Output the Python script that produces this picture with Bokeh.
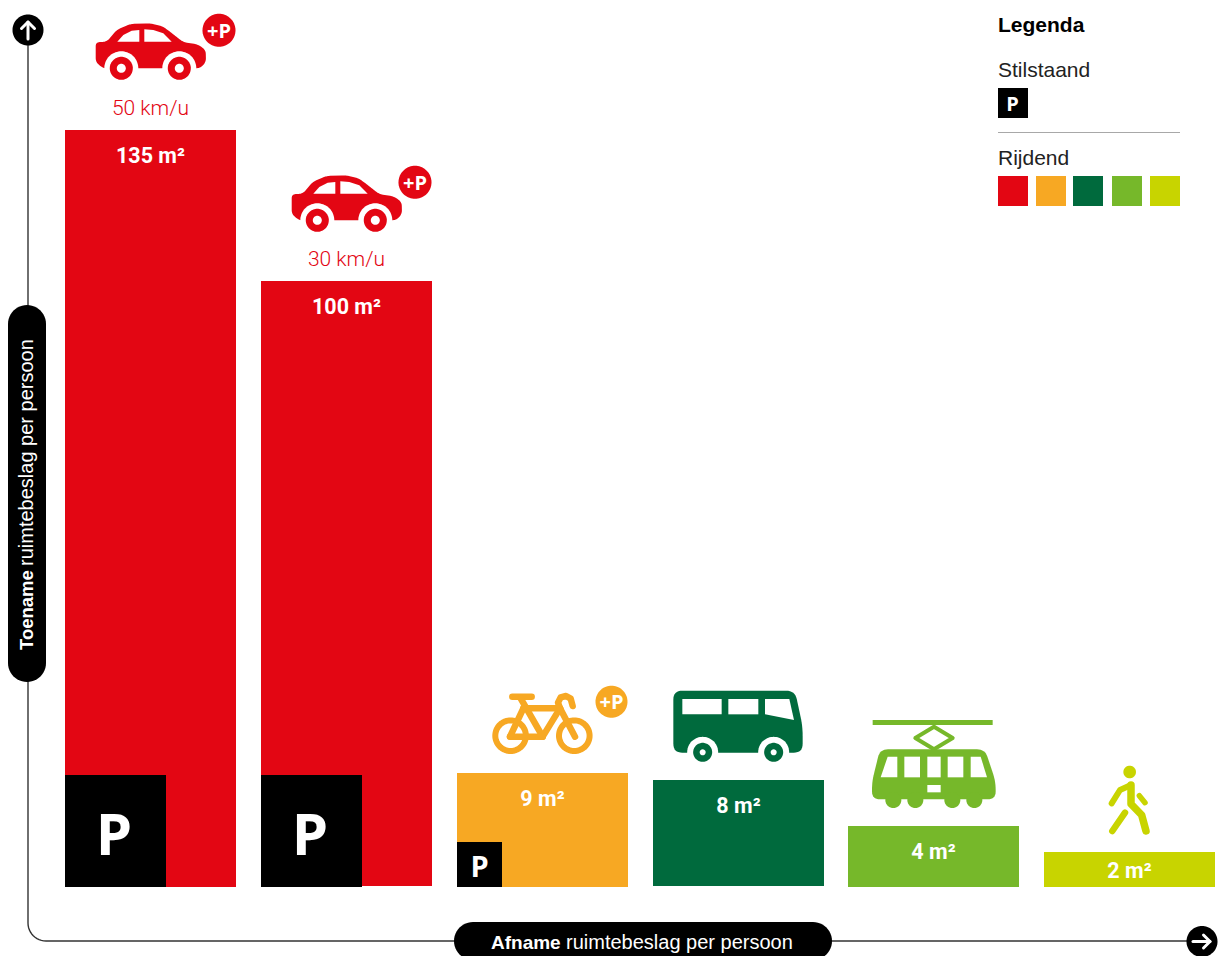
import math
from bokeh.plotting import figure
from bokeh.models import Range1d
from bokeh.core.properties import value
from bokeh.embed import file_html
from bokeh.resources import INLINE

# ---- data ----
modes = ["Auto 50 km/u", "Auto 30 km/u", "Fiets", "Bus", "Tram", "Lopen"]
space_m2 = [135, 100, 9, 8, 4, 2]
drawn_height = [757, 605, 114, 106, 61, 35]      # the picture's bars are not to scale
base_gap = [0, 1, 0, 1, 0, 0]
parking_height = [112, 112, 45, 0, 0, 0]
parking_width = [101, 101, 45, 0, 0, 0]
speed_labels = ["50 km/u", "30 km/u", "", "", "", ""]
colors = ["#E30613", "#E30613", "#F7A823", "#006A3D", "#76B82A", "#C8D400"]
legend_colors = ["#E30613", "#F7A823", "#006A3D", "#76B82A", "#C8D400"]

W, H = 1218, 956
RED, ORANGE, GREEN, LIME, YEL = legend_colors
p = figure(width=W, height=H, output_backend="svg", toolbar_location=None,
           x_range=Range1d(0.5, 1218.5), y_range=Range1d(956.5, 0.5),
           min_border=0, outline_line_color=None, background_fill_color="white")
p.axis.visible = False
p.grid.visible = False


def rounded(pts, r):
    out = []
    n = len(pts)
    for i in range(n):
        a, b, c = pts[i - 1], pts[i], pts[(i + 1) % n]
        la = math.dist(a, b)
        lc = math.dist(b, c)
        ra = min(r, la / 2) / la
        rc = min(r, lc / 2) / lc
        p0 = (b[0] + (a[0] - b[0]) * ra, b[1] + (a[1] - b[1]) * ra)
        p2 = (b[0] + (c[0] - b[0]) * rc, b[1] + (c[1] - b[1]) * rc)
        for k in range(9):
            t = k / 8
            out.append(((1 - t) ** 2 * p0[0] + 2 * t * (1 - t) * b[0] + t * t * p2[0],
                        (1 - t) ** 2 * p0[1] + 2 * t * (1 - t) * b[1] + t * t * p2[1]))
    return out


def poly(pts, color, r=0):
    if r:
        pts = rounded(pts, r)
    p.patch([a for a, _ in pts], [b for _, b in pts], fill_color=color, line_color=None)


def circ(x, y, rad, color):
    pts = [(x + rad * math.cos(t * math.pi / 36), y + rad * math.sin(t * math.pi / 36)) for t in range(72)]
    poly(pts, color)


def ring(x, y, rad, w, color):
    pts = [(x + rad * math.cos(t * math.pi / 36), y + rad * math.sin(t * math.pi / 36)) for t in range(73)]
    path(pts, color, w)


def path(pts, color, w):
    p.line([a for a, _ in pts], [b for _, b in pts], line_color=color, line_width=w,
           line_cap="round", line_join="round")


def label(x, y, t, size, color, font="Roboto", style="normal", align="center", angle=0):
    p.text([x], [y], text=[t], text_font=value(font), text_font_size=value(f"{size}px"),
           text_font_style=style, text_color=color, text_align=align, text_baseline="middle",
           angle=angle)


def car(dx, dy):
    body = [(95.7, 42.3), (106.7, 41.7), (116.7, 30), (130, 24), (150, 23.3), (163, 26.5), (173, 34),
            (183, 42), (198, 44.5), (205.7, 50), (206, 62), (200, 68.3), (103, 68.3), (95.7, 62)]
    poly([(x + dx, y + dy) for x, y in body], RED, 4)
    for cx in (121.3, 179.3):
        circ(cx + dx, 68.3 + dy, 17, "white")
        circ(cx + dx, 68.3 + dy, 11.5, RED)
        circ(cx + dx, 68.3 + dy, 4.5, "white")
    for w in ([(117.3, 41.7), (139.3, 41.7), (139.3, 30), (131.7, 30.7), (123.3, 35)],
              [(144.3, 41.7), (171.7, 41.7), (163.3, 33.3), (153.3, 30), (144.3, 29.3)]):
        poly([(x + dx, y + dy) for x, y in w], "white")


def badge(x, y, rad, color):
    circ(x, y, rad, color)
    label(x, y, "+P", 20, "white", "Open Sans", "bold")


def zb(pts):
    return [(470 + x / 3, 670 + y / 3) for x, y in pts]


def zc(pts):
    return [(480 + x / 3, 680 + y / 3) for x, y in pts]


def zt(pts):
    return [(850 + x / 3, 700 + y / 3) for x, y in pts]


# ---- axes ----
curve = [(28, 30), (28, 923)]
curve += [(46 - 18 * math.cos(t * math.pi / 24), 923 + 18 * math.sin(t * math.pi / 24)) for t in range(1, 13)]
curve += [(1202, 941)]
p.line([a for a, _ in curve], [b for _, b in curve], line_color="#333333", line_width=1.4)

circ(28, 30, 15.5, "black")
path([(28, 39), (28, 22)], "white", 3)
path([(21.5, 28.5), (28, 22), (34.5, 28.5)], "white", 3)
circ(1202, 941.5, 15.5, "black")
path([(1193, 941.5), (1210, 941.5)], "white", 3)
path([(1203.5, 935), (1210, 941.5), (1203.5, 948)], "white", 3)

# pills
pts = [(27 - 19 * math.cos(t * math.pi / 24), 324 - 19 * math.sin(t * math.pi / 24)) for t in range(25)]
pts += [(27 + 19 * math.cos(t * math.pi / 24), 663 + 19 * math.sin(t * math.pi / 24)) for t in range(25)]
poly(pts, "black")
label(26, 650, "Toename", 18.5, "white", "Liberation Sans", "bold", "left", math.pi / 2)
label(26, 566, "ruimtebeslag per persoon", 20, "white", "Liberation Sans", "normal", "left", math.pi / 2)

pts = [(473 - 19 * math.sin(t * math.pi / 24), 941 - 19 * math.cos(t * math.pi / 24)) for t in range(25)]
pts += [(813 + 19 * math.sin(t * math.pi / 24), 941 + 19 * math.cos(t * math.pi / 24)) for t in range(25)]
poly(pts, "black")
label(491, 942, "Afname", 19, "white", "Liberation Sans", "bold", "left")
label(566, 942, "ruimtebeslag per persoon", 20, "white", "Liberation Sans", "normal", "left")

# ---- bars ----
base = 887
lefts = [round(65.15 + 195.8 * i) for i in range(len(modes))]
rights = [l + 171 for l in lefts]
tops = [base - g - h for h, g in zip(drawn_height, base_gap)]
bottoms = [base - g for g in base_gap]
p.quad(left=lefts, right=rights, top=tops, bottom=bottoms, fill_color=colors, line_color=None)

pk = [i for i, h in enumerate(parking_height) if h]
p.quad(left=[lefts[i] for i in pk], right=[lefts[i] + parking_width[i] for i in pk],
       top=[base - parking_height[i] for i in pk], bottom=[base] * len(pk),
       fill_color="black", line_color=None)
for i in pk:
    label(lefts[i] + 49 if parking_width[i] > 50 else lefts[i] + 22.5,
          base - 55 if parking_width[i] > 50 else base - 22,
          "P", 58 if parking_width[i] > 50 else 29, "white", "Open Sans", "bold")

for i, v in enumerate(space_m2):
    dy = 18 if v == 2 else 25
    label(lefts[i] + 85.5, tops[i] + dy, f"{v} m²", 21.5, "white", "Roboto", "bold")
    if speed_labels[i]:
        label(lefts[i] + 85.5, tops[i] - 22.5, speed_labels[i], 21, RED, "Roboto Light")

# ---- icons ----
car(0, 0)
badge(219, 30.3, 16.5, RED)
car(196, 152)
badge(415, 182.3, 16.5, RED)

# bike
ring(510.6, 735.7, 15.3, 6, ORANGE)
ring(574.3, 735.7, 15.3, 6, ORANGE)
for seg in ([(97, 50), (155, 50)], [(122, 55), (188, 170)], [(130, 85), (240, 85)],
            [(188, 170), (240, 85)], [(90, 170), (188, 170)], [(130, 85), (90, 170)],
            [(240, 85), (285, 170)]):
    path(zc(seg), ORANGE, 6.5)
path(zc([(240, 85), (234, 68), (242, 52), (258, 48), (272, 56), (278, 78)]), ORANGE, 6.5)
circ(611.5, 701.7, 16, ORANGE)
label(611.5, 701.7, "+P", 20, "white", "Open Sans", "bold")

# bus
poly(zb([(610, 62), (975, 62), (998, 170), (998, 248), (610, 248)]), GREEN, 9)
for cx in (698, 911):
    circ(*zb([(cx, 247)])[0], 15.5, "white")
    circ(*zb([(cx, 247)])[0], 9.5, GREEN)
    circ(*zb([(cx, 247)])[0], 3, "white")
for w in ([(637, 87), (755, 87), (755, 133), (637, 133)], [(775, 87), (865, 87), (865, 133), (775, 133)],
          [(885, 87), (958, 87), (972, 150), (885, 133)]):
    poly(zb(w), "white")

# tram
poly(zt([(68, 60), (428, 60), (428, 75), (68, 75)]), LIME)
path(zt([(252, 80), (308, 114), (252, 148), (196, 114), (252, 80)]), LIME, 4)
poly(zt([(90, 148), (405, 148), (437, 245), (437, 298), (66, 298), (66, 245)]), LIME, 8)
for cx in (130, 196, 307, 373):
    circ(*zt([(cx, 300)])[0], 8, LIME)
for w in ([(113, 170), (142, 170), (142, 232), (92, 232)], [(163, 170), (210, 170), (210, 232), (163, 232)],
          [(232, 170), (272, 170), (272, 232), (232, 232)], [(293, 170), (340, 170), (340, 232), (293, 232)],
          [(362, 170), (392, 170), (411, 232), (362, 232)], [(232, 255), (272, 255), (272, 277), (232, 277)]):
    poly(zt(w), "white")

# pedestrian
circ(*zt([(839, 216)])[0], 6.3, YEL)
path(zt([(785, 310), (810, 270), (843, 255)]), YEL, 6)
path(zt([(843, 255), (843, 312), (875, 345), (888, 393)]), YEL, 7.5)
path(zt([(825, 338), (787, 393)]), YEL, 6.5)
path(zt([(868, 287), (885, 308)]), YEL, 5.5)

# ---- legend ----
label(998, 24, "Legenda", 21, "black", "Liberation Sans", "bold", "left")
label(998, 69.5, "Stilstaand", 21, "#222222", "Liberation Sans", "normal", "left")
p.quad(left=[998], right=[1028], top=[88], bottom=[118], fill_color="black", line_color=None)
label(1012.5, 103, "P", 20, "white", "Open Sans", "bold")
p.line([998, 1180], [132.5, 132.5], line_color="#A8A8A8", line_width=1)
label(998, 157.5, "Rijdend", 21, "#222222", "Liberation Sans", "normal", "left")
lx = [998, 1036, 1073, 1112, 1150]
p.quad(left=lx, right=[x + 30 for x in lx], top=[176] * 5, bottom=[206] * 5, fill_color=legend_colors, line_color=None)

open("out.html", "w").write(file_html(p, INLINE))
